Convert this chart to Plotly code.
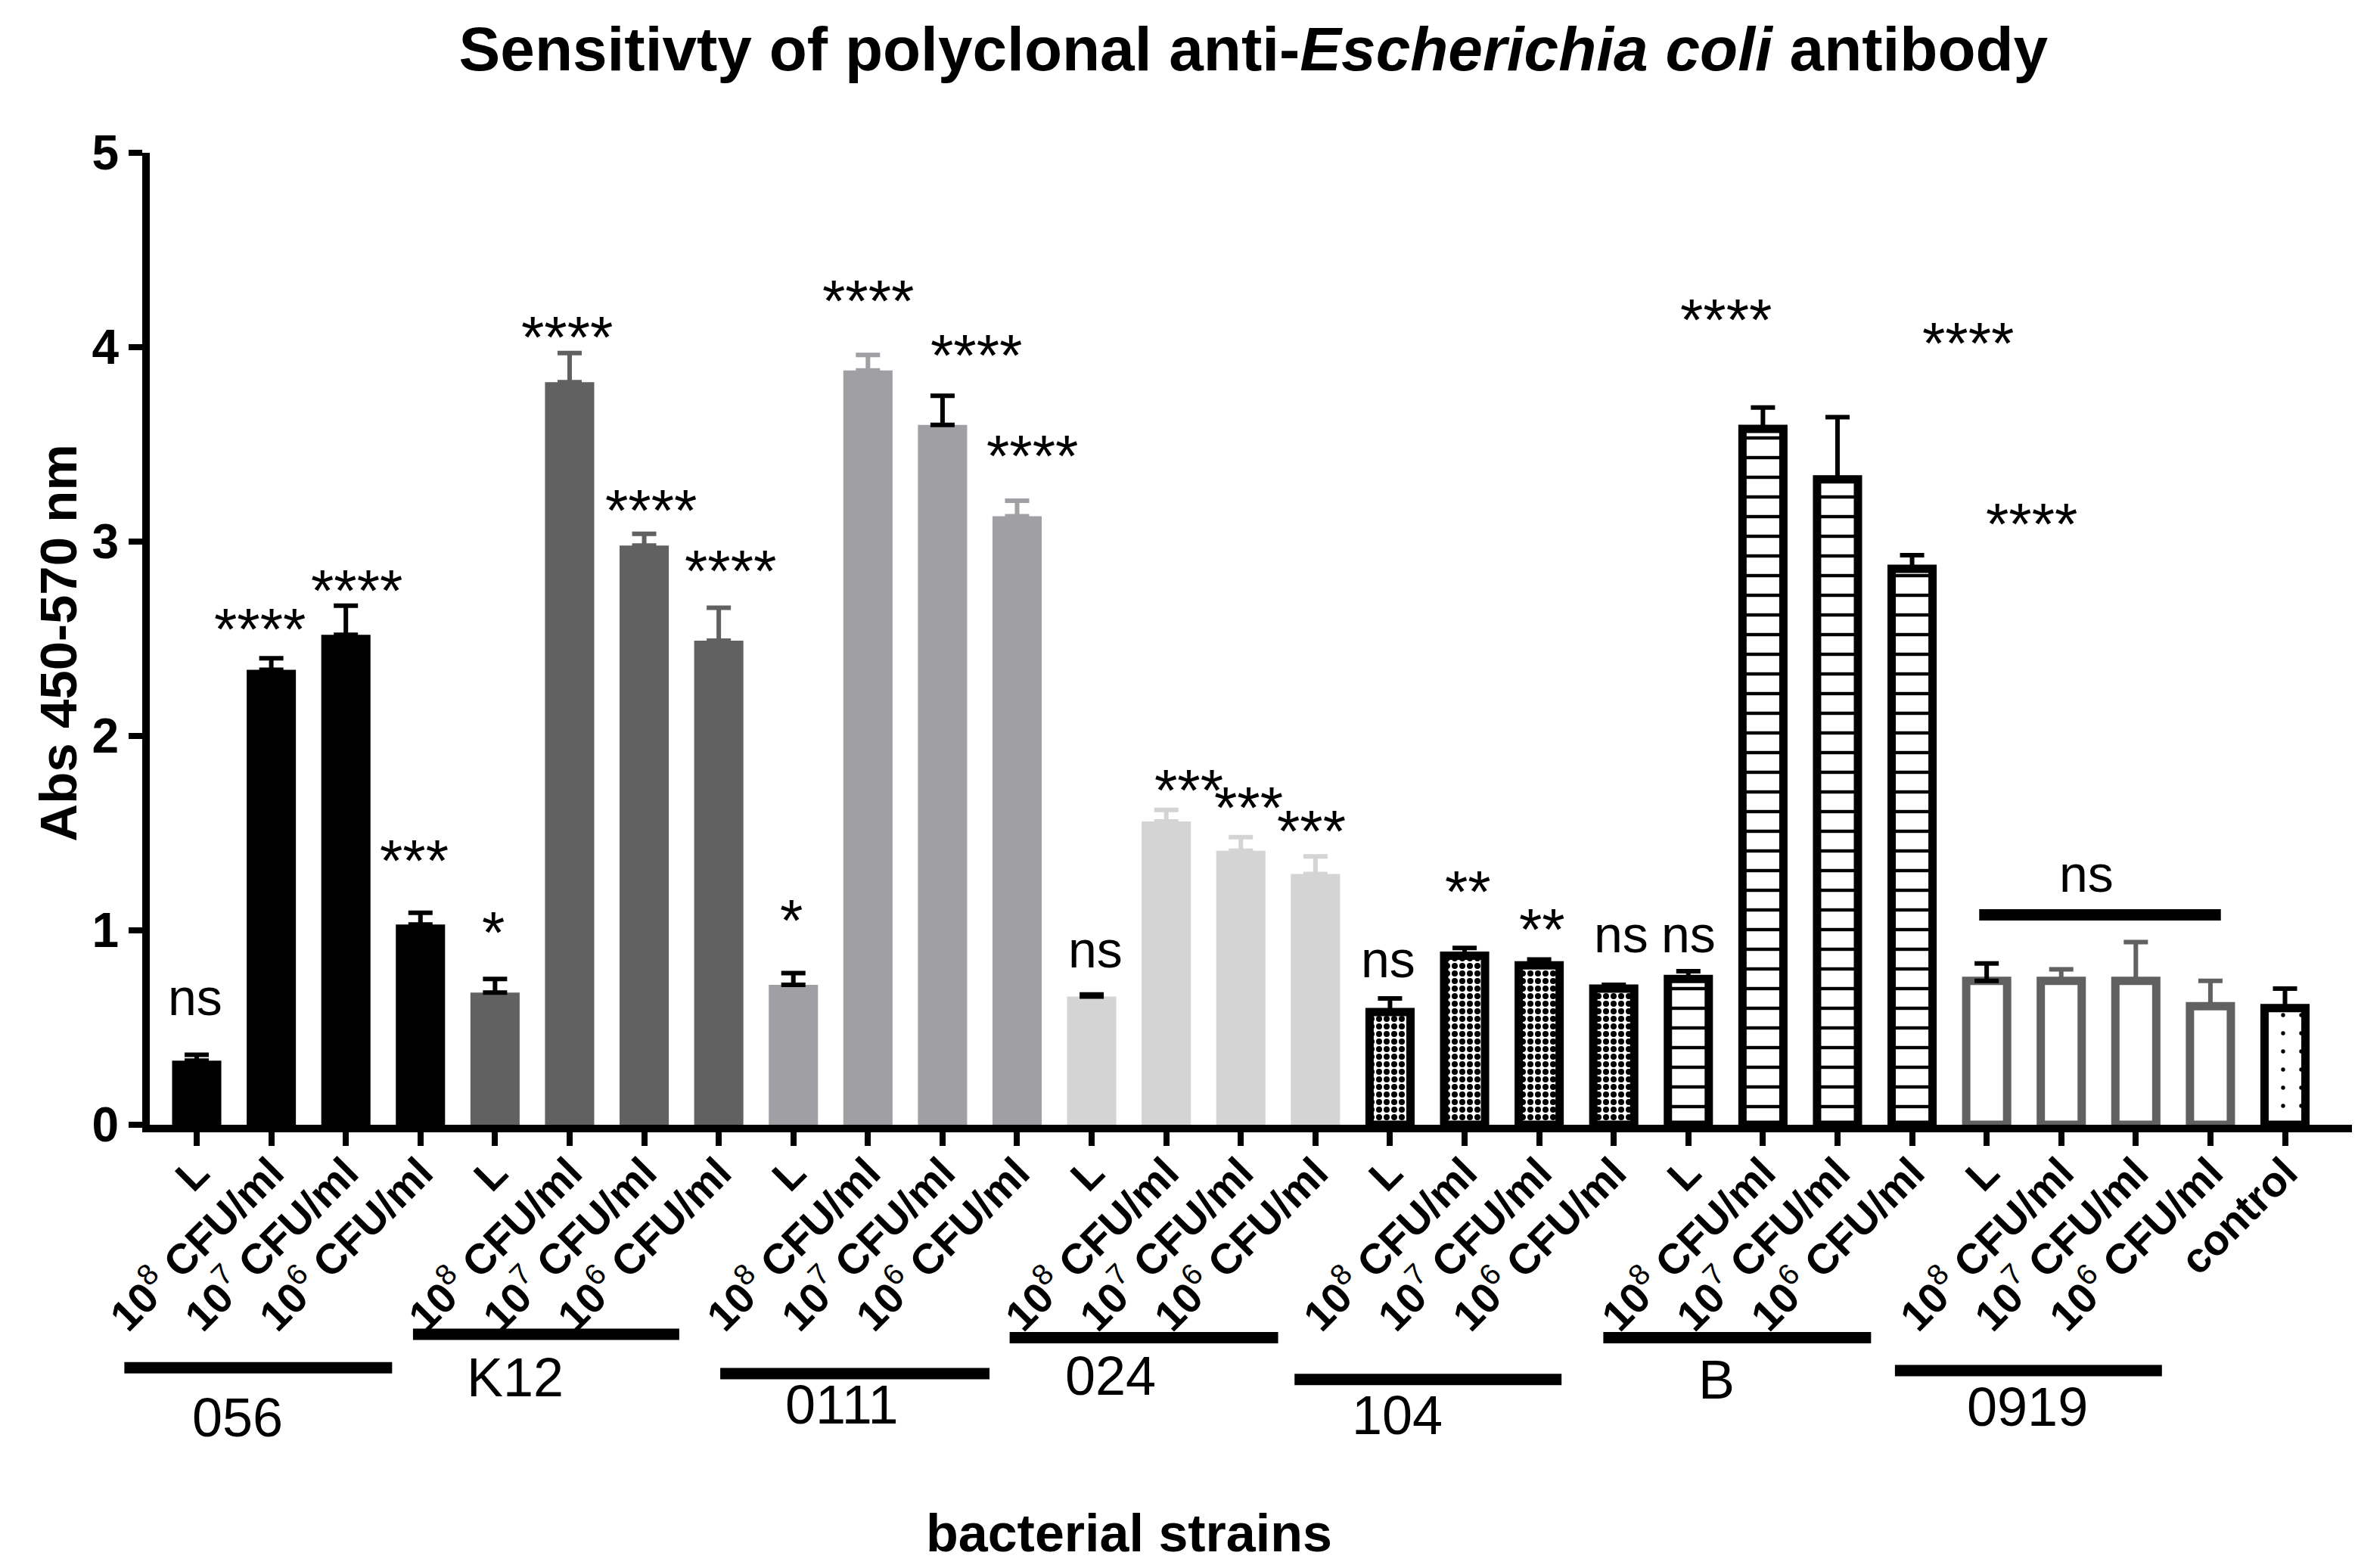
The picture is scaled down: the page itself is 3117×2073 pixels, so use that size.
import plotly.graph_objects as go

# --- data (Abs 450-570 nm, mean and upper SD) ---
strains = ["056", "K12", "0111", "024", "104", "B", "0919"]
doses = ["L",
         "10<sup><span style='font-weight:normal'>8</span></sup> CFU/ml",
         "10<sup><span style='font-weight:normal'>7</span></sup> CFU/ml",
         "10<sup><span style='font-weight:normal'>6</span></sup> CFU/ml"]

abs_056 = [0.33, 2.34, 2.52, 1.03]
err_056 = [0.03, 0.06, 0.15, 0.06]
abs_k12 = [0.68, 3.82, 2.98, 2.49]
err_k12 = [0.07, 0.15, 0.06, 0.17]
abs_0111 = [0.72, 3.88, 3.60, 3.13]
err_0111 = [0.06, 0.08, 0.15, 0.08]
abs_024 = [0.66, 1.56, 1.41, 1.29]
err_024 = [0.01, 0.06, 0.07, 0.09]
abs_104 = [0.58, 0.87, 0.82, 0.70]
err_104 = [0.07, 0.04, 0.03, 0.02]
abs_b = [0.75, 3.58, 3.32, 2.86]
err_b = [0.04, 0.11, 0.32, 0.07]
abs_0919 = [0.74, 0.74, 0.74, 0.61]
err_0919 = [0.09, 0.06, 0.20, 0.13]
control_abs = 0.60
control_err = 0.10

# significance marks (as placed on the original figure)
sig_text = ["ns", "****", "****", "***", "*", "****", "****", "****", "*", "****", "****",
            "****", "ns", "***", "***", "***", "ns", "**", "**", "ns", "ns", "****", "****",
            "****", "ns"]
sig_x = [-0.02, 0.85, 2.15, 2.92, 3.98, 4.96, 6.09, 7.16, 7.97, 9.0, 10.45,
         11.2, 12.05, 13.3, 14.1, 14.95, 15.98, 17.05, 18.04, 19.1, 20.0, 20.5, 23.75,
         24.6, 25.34]
sig_y = [0.645, 2.58, 2.78, 1.39, 1.02, 4.08, 3.19, 2.88, 1.08, 4.27, 3.99,
         3.47, 0.89, 1.75, 1.66, 1.54, 0.84, 1.23, 1.035, 0.97, 0.97, 4.17, 4.05,
         3.12, 1.28]
ns_bracket = (23.9, 27.14, 1.08)

values = [abs_056, abs_k12, abs_0111, abs_024, abs_104, abs_b, abs_0919]
errors = [err_056, err_k12, err_0111, err_024, err_104, err_b, err_0919]

# --- styles per strain ---
BLACK = "#000000"
DARK = "#616161"
MID = "#a0a0a4"
LIGHT = "#d4d4d4"
group_style = [
    dict(fill=BLACK, line=None, pattern=None, err=[BLACK, BLACK, BLACK, BLACK]),
    dict(fill=DARK, line=None, pattern=None, err=[BLACK, DARK, DARK, DARK]),
    dict(fill=MID, line=None, pattern=None, err=[BLACK, MID, BLACK, MID]),
    dict(fill=LIGHT, line=None, pattern=None, err=[BLACK, LIGHT, LIGHT, LIGHT]),
    dict(fill="white", line=BLACK, pattern=dict(shape=".", size=10, solidity=0.5),
         err=[BLACK] * 4),
    dict(fill="white", line=BLACK, pattern=dict(shape="-", size=26, solidity=0.17),
         err=[BLACK] * 4),
    dict(fill="white", line=DARK, pattern=None, err=[BLACK, DARK, DARK, DARK]),
]
control_style = dict(fill="white", line=BLACK,
                     pattern=dict(shape=".", size=24, solidity=0.04), err=[BLACK])

FONT = "Liberation Sans, Arial"
BAR_W = 0.66
OUTLINE = 11
X_MIN, X_MAX = -0.629, 29.06

fig = go.Figure()


def add_bar(x, y, e, style, err_color):
    marker = dict(color=style["fill"], line=dict(width=0))
    width = BAR_W
    if style["line"]:
        marker["line"] = dict(color=style["line"], width=OUTLINE)
        width = BAR_W - OUTLINE / 98.6
    if style["pattern"]:
        marker["pattern"] = dict(fgcolor=BLACK, bgcolor="white", fillmode="replace",
                                 **style["pattern"])
    fig.add_trace(go.Bar(
        x=[x], y=[y], width=[width], marker=marker,
        error_y=dict(type="data", symmetric=False, array=[e], arrayminus=[0],
                     color=err_color, thickness=6, width=16),
        showlegend=False,
    ))


tick_text = []
idx = 0
for g, (vals, errs) in enumerate(zip(values, errors)):
    for k in range(4):
        add_bar(idx, vals[k], errs[k], group_style[g], group_style[g]["err"][k])
        tick_text.append(doses[k])
        idx += 1
add_bar(idx, control_abs, control_err, control_style, BLACK)
tick_text.append("control")

# significance annotations
for t, x, y in zip(sig_text, sig_x, sig_y):
    star = "*" in t
    fig.add_annotation(x=x, y=y, xref="x", yref="y", text=t, showarrow=False,
                       xanchor="center", yanchor="middle",
                       font=dict(family=FONT, size=78 if star else 68, color="black"),
                       yshift=-8 if star else 3)
fig.add_shape(type="line", xref="x", yref="y", x0=ns_bracket[0], x1=ns_bracket[1],
              y0=ns_bracket[2], y1=ns_bracket[2], line=dict(color="black", width=15))

# strain group lines and labels under the axis
group_line_x = [(-0.97, 2.62), (2.9, 6.47), (7.02, 10.63), (10.9, 14.5),
                (14.72, 18.3), (18.86, 22.45), (22.77, 26.35)]
group_line_y = [-0.250, -0.2156, -0.256, -0.219, -0.262, -0.219, -0.253]
group_text_x = [0.55, 4.27, 8.65, 12.25, 16.1, 20.38, 24.55]
group_text_y = [-0.301, -0.260, -0.288, -0.258, -0.299, -0.262, -0.290]


def to_paper(v):
    return (v - X_MIN) / (X_MAX - X_MIN)


for name, (a, b), ly, tx, ty in zip(strains, group_line_x, group_line_y,
                                    group_text_x, group_text_y):
    fig.add_shape(type="line", xref="paper", yref="paper", x0=to_paper(a), x1=to_paper(b),
                  y0=ly, y1=ly, line=dict(color="black", width=15))
    fig.add_annotation(x=to_paper(tx), y=ty, xref="paper", yref="paper", text=name,
                       showarrow=False, xanchor="center", yanchor="middle",
                       font=dict(family=FONT, size=72, color="black"))

fig.add_annotation(x=to_paper(12.5), y=-0.42, xref="paper", yref="paper",
                   text="<b>bacterial strains</b>", showarrow=False,
                   xanchor="center", yanchor="middle",
                   font=dict(family=FONT, size=70, color="black"))
fig.add_annotation(x=-0.041, y=0.496, xref="paper", yref="paper",
                   text="<b>Abs 450-570 nm</b>", showarrow=False, textangle=-90,
                   xanchor="center", yanchor="middle",
                   font=dict(family=FONT, size=69, color="black"))

fig.update_layout(
    width=3117,
    height=2073,
    margin=dict(l=190, r=0, t=194, b=594),
    plot_bgcolor="white",
    paper_bgcolor="white",
    barmode="overlay",
    showlegend=False,
    title=dict(
        text="<b>Sensitivty of polyclonal anti-<i>Escherichia coli</i> antibody</b>",
        x=0.529, xref="container", xanchor="center",
        y=0.973, yref="container", yanchor="middle",
        font=dict(family=FONT, size=82, color="black"),
    ),
    xaxis=dict(
        range=[X_MIN, X_MAX],
        tickmode="array",
        tickvals=list(range(len(tick_text))),
        ticktext=tick_text,
        tickangle=-45,
        tickfont=dict(family=FONT, size=56, color="black", weight="bold"),
        ticks="outside", ticklen=18, tickwidth=8, tickcolor="black",
        ticklabelstandoff=-20,
        showline=True, linewidth=10, linecolor="black",
        showgrid=False, zeroline=False,
    ),
    yaxis=dict(
        range=[0, 5],
        dtick=1,
        tickfont=dict(family=FONT, size=64, color="black", weight="bold"),
        ticks="outside", ticklen=18, tickwidth=8, tickcolor="black",
        showline=True, linewidth=10, linecolor="black",
        showgrid=False, zeroline=False,
    ),
)

fig.write_html("out.html")
